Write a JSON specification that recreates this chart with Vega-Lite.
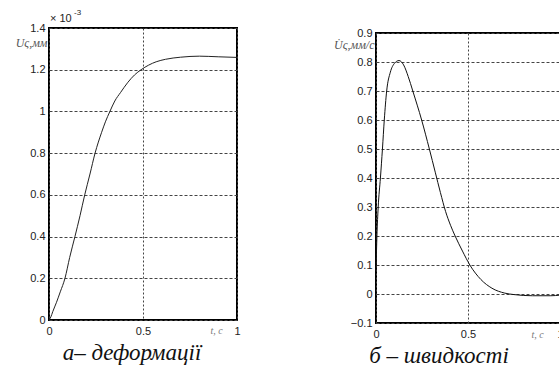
{
  "$schema": "https://vega.github.io/schema/vega-lite/v6.json",
  "background": "white",
  "padding": {"left": 14, "top": 8, "right": 0, "bottom": 0},
  "bounds": "flush",
  "spacing": 139,
  "config": {
    "view": {"stroke": "#000", "strokeWidth": 2},
    "axis": {
      "grid": true,
      "gridColor": "#444",
      "gridWidth": 1,
      "ticks": false,
      "domain": false,
      "format": "~g",
      "labelFont": "Liberation Sans",
      "labelFontSize": 11,
      "labelColor": "#222",
      "labelFlush": false,
      "labelOverlap": false,
      "titleFont": "Liberation Serif",
      "titleFontStyle": "italic",
      "titleFontWeight": "normal",
      "titleColor": "#555"
    },
    "axisX": {"gridDash": [2, 2], "labelPadding": 5},
    "axisY": {"gridDash": [3, 2], "labelPadding": 4}
  },
  "hconcat": [
    {
      "width": 188,
      "height": 292,
      "data": {"values": [
        {"t": 0, "u": 0}, {"t": 0.01, "u": 0.015}, {"t": 0.02, "u": 0.04}, {"t": 0.04, "u": 0.085}, {"t": 0.06, "u": 0.135},
        {"t": 0.085, "u": 0.2}, {"t": 0.11, "u": 0.3}, {"t": 0.138, "u": 0.4}, {"t": 0.165, "u": 0.5},
        {"t": 0.19, "u": 0.6}, {"t": 0.218, "u": 0.7}, {"t": 0.245, "u": 0.8}, {"t": 0.28, "u": 0.9},
        {"t": 0.3, "u": 0.95}, {"t": 0.324, "u": 1.0}, {"t": 0.35, "u": 1.05}, {"t": 0.38, "u": 1.09},
        {"t": 0.42, "u": 1.14}, {"t": 0.455, "u": 1.175}, {"t": 0.49, "u": 1.2},
        {"t": 0.53, "u": 1.222}, {"t": 0.57, "u": 1.238}, {"t": 0.62, "u": 1.25}, {"t": 0.7, "u": 1.26}, {"t": 0.8, "u": 1.265},
        {"t": 0.9, "u": 1.262}, {"t": 1.0, "u": 1.259}
      ]},
      "title": {"text": "а– деформації", "orient": "bottom", "frame": "group", "anchor": "middle", "dx": -11, "offset": 6,
        "font": "Liberation Serif", "fontStyle": "italic", "fontWeight": 400, "fontSize": 23, "color": "#111"},
      "layer": [
        {
          "mark": {"type": "line", "color": "#222", "strokeWidth": 1, "interpolate": "monotone"},
          "encoding": {
            "x": {"field": "t", "type": "quantitative", "scale": {"domain": [0, 1], "nice": false},
              "axis": {"values": [0, 0.5, 1], "title": "t, c", "titleX": 167, "titleY": 10, "titleAlign": "center",
                "titleBaseline": "middle", "titleFontSize": 10, "titleColor": "#777"}},
            "y": {"field": "u", "type": "quantitative", "scale": {"domain": [0, 1.4], "nice": false},
              "axis": {"values": [0, 0.2, 0.4, 0.6, 0.8, 1, 1.2, 1.4], "title": "Uς,мм", "titleAngle": 0,
                "titleAlign": "right", "titleBaseline": "middle", "titleX": -2, "titleY": 14, "titleFontSize": 12}}
          }
        },
        {
          "data": {"values": [{"label": "× 10"}]},
          "mark": {"type": "text", "align": "left", "baseline": "middle", "dx": 1, "dy": -9, "font": "Liberation Sans", "fontSize": 11, "color": "#222"},
          "encoding": {"x": {"datum": 0}, "y": {"datum": 1.4}, "text": {"field": "label"}}
        },
        {
          "data": {"values": [{"label": "-3"}]},
          "mark": {"type": "text", "align": "left", "baseline": "middle", "dx": 25, "dy": -15, "font": "Liberation Sans", "fontSize": 8, "color": "#222"},
          "encoding": {"x": {"datum": 0}, "y": {"datum": 1.4}, "text": {"field": "label"}}
        }
      ]
    },
    {
      "bounds": "flush",
      "spacing": 0,
      "vconcat": [
        {
          "width": 184,
          "height": 5,
          "view": {"stroke": null},
          "data": {"values": [{}]},
          "mark": {"type": "point", "opacity": 0}
        },
        {
          "width": 184,
          "height": 290,
          "data": {"values": [
            {"t": 0, "v": 0.08}, {"t": 0.005, "v": 0.2}, {"t": 0.012, "v": 0.3}, {"t": 0.024, "v": 0.4},
            {"t": 0.035, "v": 0.5}, {"t": 0.045, "v": 0.6}, {"t": 0.058, "v": 0.7}, {"t": 0.078, "v": 0.765},
            {"t": 0.1, "v": 0.795}, {"t": 0.125, "v": 0.805}, {"t": 0.15, "v": 0.79}, {"t": 0.175, "v": 0.75},
            {"t": 0.2, "v": 0.7}, {"t": 0.248, "v": 0.6}, {"t": 0.29, "v": 0.5}, {"t": 0.322, "v": 0.42},
            {"t": 0.35, "v": 0.35}, {"t": 0.378, "v": 0.285}, {"t": 0.405, "v": 0.237}, {"t": 0.43, "v": 0.2},
            {"t": 0.47, "v": 0.148}, {"t": 0.51, "v": 0.1}, {"t": 0.57, "v": 0.05},
            {"t": 0.63, "v": 0.02}, {"t": 0.7, "v": 0.003}, {"t": 0.75, "v": -0.002}, {"t": 0.85, "v": -0.006},
            {"t": 0.95, "v": -0.006}, {"t": 1.0, "v": -0.004}
          ]},
          "title": {"text": "б – швидкості", "orient": "bottom", "frame": "group", "anchor": "middle", "dx": -29, "offset": 6,
            "font": "Liberation Serif", "fontStyle": "italic", "fontWeight": 400, "fontSize": 23, "color": "#111"},
          "mark": {"type": "line", "color": "#111", "strokeWidth": 1, "interpolate": "monotone"},
          "encoding": {
            "x": {"field": "t", "type": "quantitative", "scale": {"domain": [0, 1], "nice": false},
              "axis": {"values": [0, 0.5, 1], "title": "t, c", "titleX": 161, "titleY": 11, "titleAlign": "center",
                "titleBaseline": "middle", "titleFontSize": 10, "titleColor": "#777"}},
            "y": {"field": "v", "type": "quantitative", "scale": {"domain": [-0.1, 0.9], "nice": false},
              "axis": {"values": [-0.1, 0, 0.1, 0.2, 0.3, 0.4, 0.5, 0.6, 0.7, 0.8, 0.9], "title": "U̇ς,мм/с", "titleAngle": 0,
                "titleAlign": "right", "titleBaseline": "middle", "titleX": -2, "titleY": 11, "titleFontSize": 12}}
          }
        }
      ]
    }
  ]
}
